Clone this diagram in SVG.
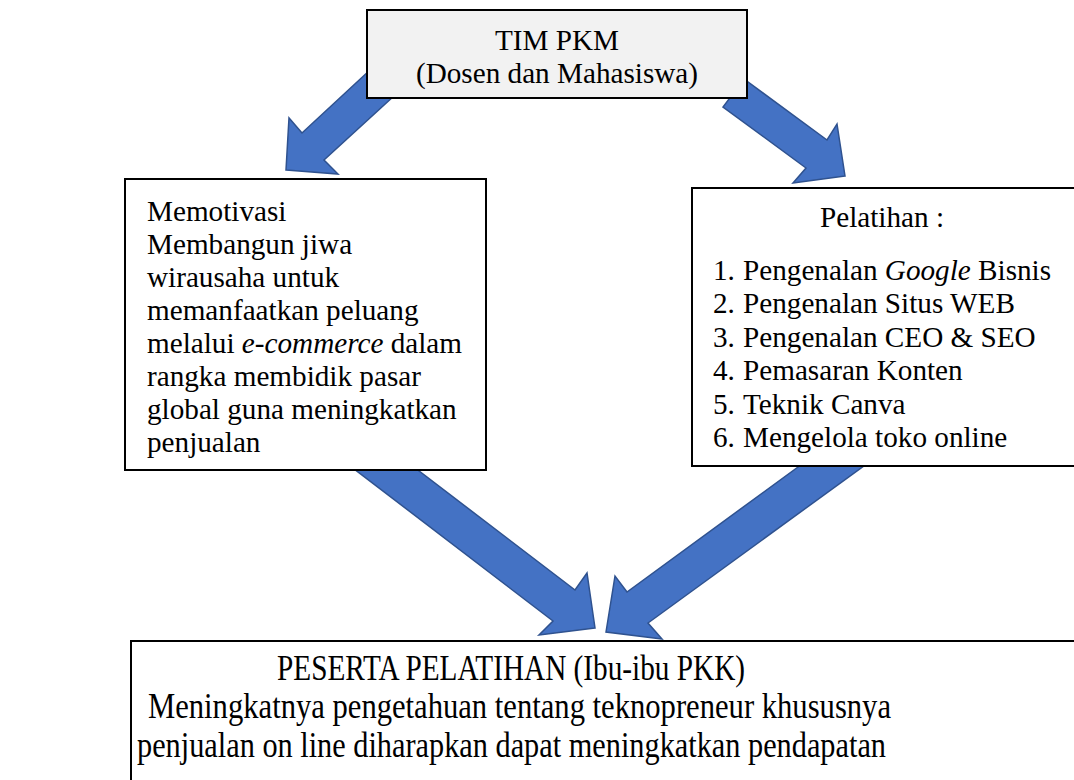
<svg xmlns="http://www.w3.org/2000/svg" width="1074" height="780" viewBox="0 0 1074 780">
<style>
.arrow{fill:#4472C4;stroke:#2F528F;stroke-width:1.5;stroke-linejoin:miter}
.box{fill:#ffffff;stroke:#000000;stroke-width:2}
.t{font-family:"Liberation Serif","Times New Roman",serif;font-size:29.2px;fill:#000}
.b{font-family:"Liberation Serif","Times New Roman",serif;font-size:36px;fill:#000}
</style>
<rect width="1074" height="780" fill="#ffffff"/>
<g id="connectors">
<polygon class="arrow" points="286,170 338,174 324,160 395,95 370,70 302,133 289,118"/>
<polygon class="arrow" points="845,176 793,183 806,168 723,107 744,79 827,140 837,124"/>
<polygon class="arrow" points="595,628 539,635 553,621 345,462 368,432 575,590 587,573"/>
<polygon class="arrow" points="606,632 615,576 627,592 850,429 872,460 648,623 662,639"/>
</g>
<g id="node-tim">
<rect class="box" x="367" y="10" width="380" height="88" style="fill:#f2f2f2"/>
<text class="t" x="557" y="50" text-anchor="middle">TIM PKM</text>
<text class="t" x="557" y="83" text-anchor="middle">(Dosen dan Mahasiswa)</text>
</g>
<g id="node-motivasi">
<rect class="box" x="125" y="179" width="361" height="291"/>
<text class="t" x="147" y="221">Memotivasi</text>
<text class="t" x="147" y="254">Membangun jiwa</text>
<text class="t" x="147" y="287">wirausaha untuk</text>
<text class="t" x="147" y="320">memanfaatkan peluang</text>
<text class="t" x="147" y="353">melalui <tspan font-style="italic">e-commerce</tspan> dalam</text>
<text class="t" x="147" y="386">rangka membidik pasar</text>
<text class="t" x="147" y="419">global guna meningkatkan</text>
<text class="t" x="147" y="452">penjualan</text>
</g>
<g id="node-pelatihan">
<rect class="box" x="692" y="188" width="390" height="278"/>
<text class="t" x="882" y="227" text-anchor="middle">Pelatihan :</text>
<text class="t" x="713" y="280">1.</text><text class="t" x="743" y="280">Pengenalan <tspan font-style="italic">Google</tspan> Bisnis</text>
<text class="t" x="713" y="313">2.</text><text class="t" x="743" y="313">Pengenalan Situs WEB</text>
<text class="t" x="713" y="347">3.</text><text class="t" x="743" y="347">Pengenalan CEO &amp; SEO</text>
<text class="t" x="713" y="380">4.</text><text class="t" x="743" y="380">Pemasaran Konten</text>
<text class="t" x="713" y="414">5.</text><text class="t" x="743" y="414">Teknik Canva</text>
<text class="t" x="713" y="447">6.</text><text class="t" x="743" y="447">Mengelola toko online</text>
</g>
<g id="node-peserta">
<rect class="box" x="131" y="641" width="951" height="150"/>
<text class="b" x="277" y="680" textLength="468" lengthAdjust="spacingAndGlyphs">PESERTA PELATIHAN (Ibu-ibu PKK)</text>
<text class="b" x="148" y="718" textLength="743" lengthAdjust="spacingAndGlyphs">Meningkatnya pengetahuan tentang teknopreneur khususnya</text>
<text class="b" x="137" y="757" textLength="749" lengthAdjust="spacingAndGlyphs">penjualan on line diharapkan dapat meningkatkan pendapatan</text>
</g>
</svg>
